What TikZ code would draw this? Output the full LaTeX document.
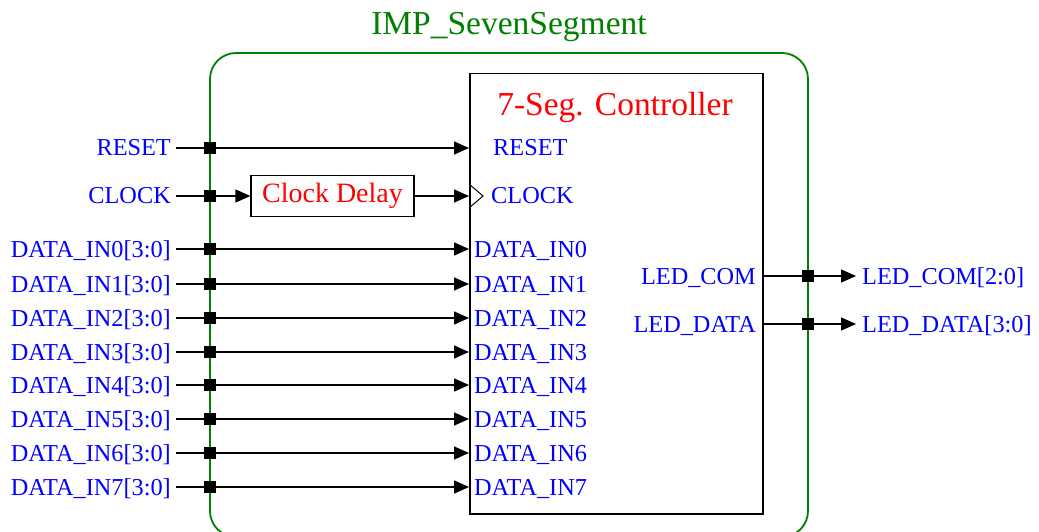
\documentclass[tikz,border=0pt]{standalone}
\usepackage{fontspec}
\setmainfont{Liberation Serif}
\usetikzlibrary{arrows.meta}

\definecolor{frame}{RGB}{0,128,0}

\tikzset{
  sig/.style={text=blue, inner sep=0pt, font=\fontsize{24.3}{24}\selectfont, yshift=-8pt},
  sigl/.style={sig, anchor=base east},
  sigr/.style={sig, anchor=base west},
  jct/.style={fill=black, minimum size=12pt, inner sep=0pt},
  wire/.style={draw=black, line width=1.5pt},
  arr/.style={wire, -{Triangle[length=15pt, width=13pt]}},
  blockbox/.style={draw=black, line width=1.5pt, inner sep=0pt},
}

\begin{document}
\begin{tikzpicture}[x=1pt, y=-1pt]
\useasboundingbox (0,0) rectangle (1039,532);
\clip (0,0) rectangle (1039,532);

% enclosing module
\draw[frame, line width=1.8pt, rounded corners=26pt] (210,53) rectangle (808,537);
\node[text=frame, font=\fontsize{33.5}{34}\selectfont, inner sep=0pt, anchor=base] (title) at (509,35) {IMP\_SevenSegment};

% controller block
\node[blockbox, minimum width=293pt, minimum height=440pt, anchor=north west] (ctrl) at (469,73) {};
\node[text=red, font=\fontsize{33.5}{34}\selectfont, inner sep=0pt, anchor=base] (ctitle) at (615,116) {7-Seg. Controller};

% clock delay block
\node[blockbox, line width=1.2pt, minimum width=163pt, minimum height=41pt] (delay) at (332.5,196) {};
\node[text=red, font=\fontsize{28}{28}\selectfont, inner sep=0pt, anchor=base] (delaytxt) at (332.5,202) {Clock Delay};

% clock input marker
\coordinate (ck1) at (469,184);
\coordinate (ck2) at (483,196);
\coordinate (ck3) at (469,208);
\draw[black, line width=1pt] (ck1) -- (ck2) -- (ck3);

% RESET
\node[sigl] (lreset) at (171,148) {RESET};
\node[sigr] (ireset) at (493,148) {RESET};
\coordinate (sreset) at (176,148);
\draw[arr] (sreset) -- (sreset -| ctrl.west);
\node[jct] (jreset) at (210,148) {};

% CLOCK
\node[sigl] (lclock) at (171,196) {CLOCK};
\node[sigr] (iclock) at (491,196) {CLOCK};
\coordinate (sclock) at (176,196);
\draw[arr] (sclock) -- (delay.west);
\draw[arr] (delay.east) -- (delay.east -| ctrl.west);
\node[jct] (jclock) at (210,196) {};

% data inputs
\foreach \i/\y in {0/249,1/284,2/318,3/352,4/385,5/419,6/453,7/487}{
  \node[sigl] (ldata\i) at (171,\y) {DATA\_IN\i[3:0]};
  \node[sigr] (idata\i) at (474,\y) {DATA\_IN\i};
  \coordinate (sdata\i) at (176,\y);
  \draw[arr] (sdata\i) -- (sdata\i -| ctrl.west);
  \node[jct] (jdata\i) at (210,\y) {};
}

% outputs
\node[sigl] (icom) at (756,276) {LED\_COM};
\node[sigr] (ocom) at (862,276) {LED\_COM[2:0]};
\coordinate (tcom) at (856,276);
\draw[arr] (tcom -| ctrl.east) -- (tcom);
\node[jct] (jcom) at (808,276) {};

\node[sigl] (idat) at (756,324) {LED\_DATA};
\node[sigr] (odat) at (862,324) {LED\_DATA[3:0]};
\coordinate (tdat) at (856,324);
\draw[arr] (tdat -| ctrl.east) -- (tdat);
\node[jct] (jdat) at (808,324) {};
\end{tikzpicture}
\end{document}
